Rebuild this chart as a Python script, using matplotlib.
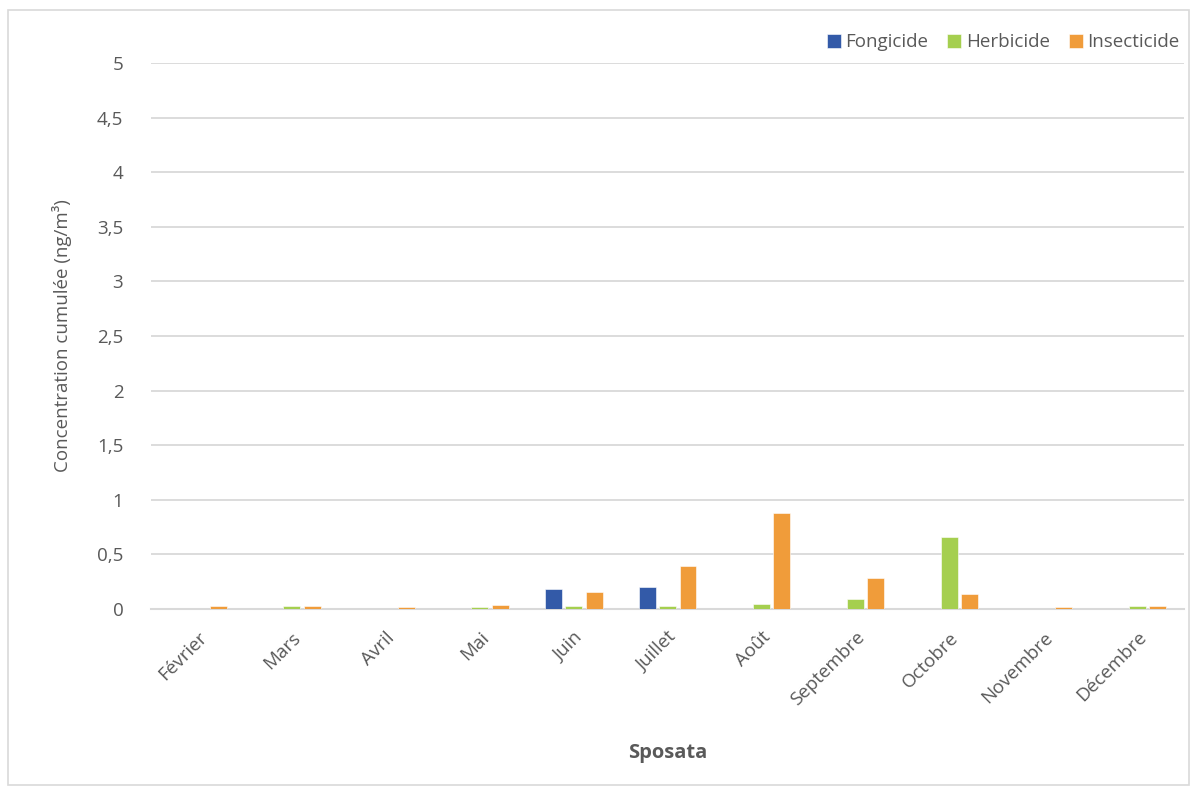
import numpy as np
import matplotlib.pyplot as plt
from matplotlib.patches import Rectangle

plt.rcParams['font.family'] = ['Open Sans', 'DejaVu Sans']

months = ['Février', 'Mars', 'Avril', 'Mai', 'Juin', 'Juillet', 'Août',
          'Septembre', 'Octobre', 'Novembre', 'Décembre']
fongicide = [0, 0, 0, 0, 0.18, 0.205, 0, 0, 0, 0, 0]
herbicide = [0, 0.03, 0, 0.015, 0.03, 0.03, 0.045, 0.09, 0.655, 0, 0.03]
insecticide = [0.03, 0.03, 0.015, 0.04, 0.155, 0.395, 0.875, 0.28, 0.135, 0.015, 0.03]
yticks = [0, 0.5, 1, 1.5, 2, 2.5, 3, 3.5, 4, 4.5, 5]

text_color = '#595959'
grid_color = '#D9D9D9'


def main():
    fig = plt.figure(figsize=(11.93, 7.87), dpi=100)
    ax = fig.add_axes([0.1266, 0.2262, 0.8659, 0.6938])
    fig.patches.append(Rectangle((0.007, 0.003), 0.99, 0.984, transform=fig.transFigure,
                                 fill=False, edgecolor=grid_color, linewidth=1.2))

    x = np.arange(len(months))
    w = 0.18
    off = 0.218
    series = [('Fongicide', fongicide, '#335AA8'),
              ('Herbicide', herbicide, '#A5CF4F'),
              ('Insecticide', insecticide, '#F09C3A')]
    for i, (name, vals, col) in enumerate(series):
        ax.bar(x + (i - 1) * off, vals, w, color=col, label=name,
               edgecolor='white', linewidth=0.4, zorder=3)

    ax.set_xlim(-0.5, len(months) - 0.5)
    ax.set_ylim(0, 5)
    ax.set_yticks(yticks)
    ax.set_yticklabels([f'{v:g}'.replace('.', ',') for v in yticks])
    ax.set_xticks(x)
    ax.set_xticklabels(months, rotation=45, ha='right', rotation_mode='anchor')
    ax.tick_params(length=0, colors=text_color, labelsize=13.5)
    ax.tick_params(axis='y', pad=20)
    ax.tick_params(axis='x', pad=14)
    ax.grid(axis='y', color=grid_color, linewidth=1.3, zorder=0)
    for s in ['top', 'right', 'left']:
        ax.spines[s].set_visible(False)
    ax.spines['bottom'].set_color(grid_color)
    ax.spines['bottom'].set_linewidth(1.5)

    ax.set_ylabel('Concentration cumulée (ng/m³)', color=text_color, fontsize=13.5, labelpad=18)
    ax.set_xlabel('Sposata', color=text_color, fontsize=14.5, fontweight='bold', labelpad=24)

    ax.legend(loc='upper right', bbox_to_anchor=(1.012, 1.085), ncol=3, frameon=False,
              fontsize=13.5, handlelength=0.75, handleheight=0.75, handletextpad=0.25,
              columnspacing=1.0, labelcolor=text_color)

    fig.savefig('out.png', dpi=100)


if __name__ == '__main__':
    main()
